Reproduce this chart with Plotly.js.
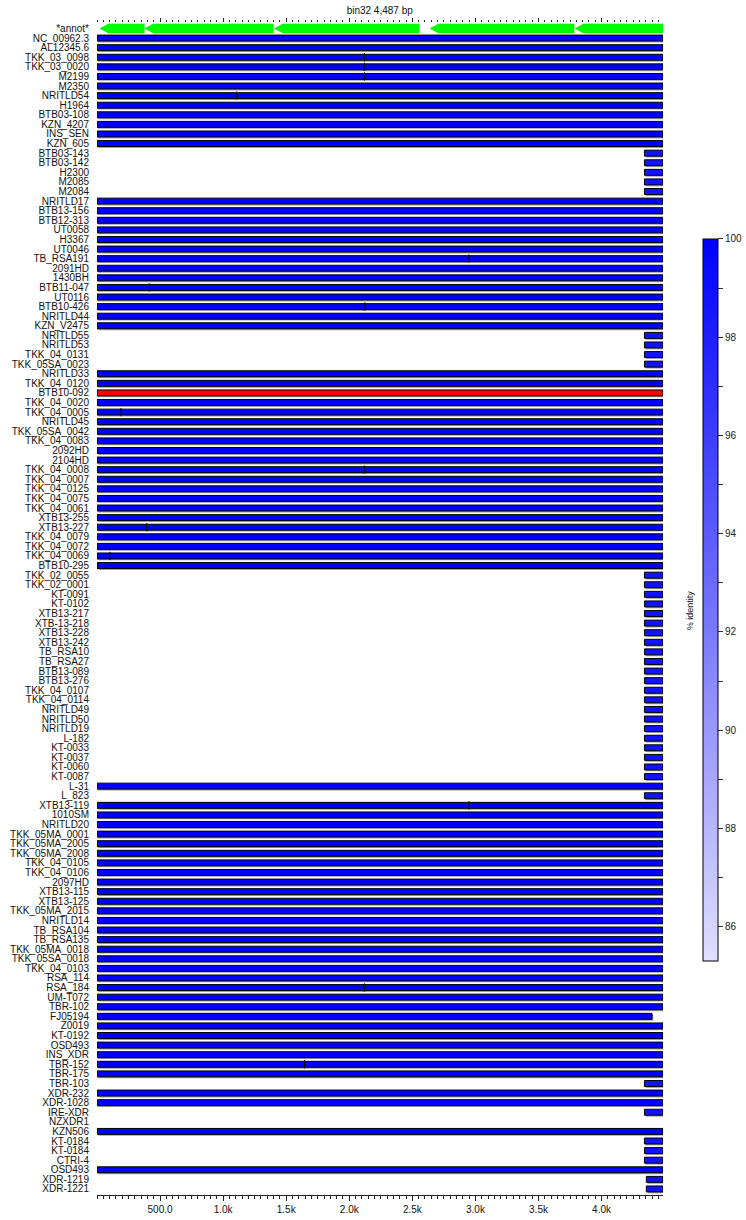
<!DOCTYPE html>
<html><head><meta charset="utf-8">
<script src="https://cdn.plot.ly/plotly-3.0.1.min.js"></script>
<style>html,body{margin:0;padding:0;background:#fff;}</style>
</head><body><div id="chart" style="width:746px;height:1220px;"></div>
<script>
const chartTitle = "bin32 4,487 bp";
const seqLength = 4487;
const annotLabel = "*annot*";
const colorbarTitle = "% identity";

// gene annotation (bp)
const geneStart = [24, 380, 1407, 2641, 3790];
const geneEnd = [375, 1398, 2554, 3782, 4487];
const geneStrand = ["-", "-", "-", "-", "-"];

const samples = [
"NC_00962.3","AL12345.6","TKK_03_0098","TKK_03_0020","M2199","M2350","NRITLD54","H1964","BTB03-108","KZN_4207",
"INS_SEN","KZN_605","BTB03-143","BTB03-142","H2300","M2085","M2084","NRITLD17","BTB13-156","BTB12-313",
"UT0058","H3367","UT0046","TB_RSA191","2091HD","1430BH","BTB11-047","UT0116","BTB10-426","NRITLD44",
"KZN_V2475","NRITLD55","NRITLD53","TKK_04_0131","TKK_05SA_0023","NRITLD33","TKK_04_0120","BTB10-092","TKK_04_0020","TKK_04_0005",
"NRITLD45","TKK_05SA_0042","TKK_04_0083","2092HD","2104HD","TKK_04_0008","TKK_04_0007","TKK_04_0125","TKK_04_0075","TKK_04_0061",
"XTB13-255","XTB13-227","TKK_04_0079","TKK_04_0072","TKK_04_0069","BTB10-295","TKK_02_0055","TKK_02_0001","KT-0091","KT-0102",
"XTB13-217","XTB-13-218","XTB13-228","XTB13-242","TB_RSA10","TB_RSA27","BTB13-089","BTB13-276","TKK_04_0107","TKK_04_0114",
"NRITLD49","NRITLD50","NRITLD19","L-182","KT-0033","KT-0037","KT-0060","KT-0087","L-31","L_823",
"XTB13-119","1010SM","NRITLD20","TKK_05MA_0001","TKK_05MA_2005","TKK_05MA_2008","TKK_04_0105","TKK_04_0106","2097HD","XTB13-115",
"XTB13-125","TKK_05MA_2015","NRITLD14","TB_RSA104","TB_RSA135","TKK_05MA_0018","TKK_05SA_0018","TKK_04_0103","RSA_114","RSA_184",
"UM-T072","TBR-102","FJ05194","Z0019","KT-0192","OSD493","INS_XDR","TBR-152","TBR-175","TBR-103",
"XDR-232","XDR-1028","IRE-XDR","NZXDR1","KZN506","KT-0184","KT-0184","CTRI-4","OSD493","XDR-1219",
"XDR-1221"
];

const alnStart = [
0,0,0,0,0,0,0,0,0,0,
0,0,4340,4340,4340,4340,4340,0,0,0,
0,0,0,0,0,0,0,0,0,0,
0,4340,4340,4340,4340,0,0,0,0,0,
0,0,0,0,0,0,0,0,0,0,
0,0,0,0,0,0,4340,4340,4340,4340,
4340,4340,4340,4340,4340,4340,4340,4340,4340,4340,
4340,4340,4340,4340,4340,4340,4340,4340,0,4340,
0,0,0,0,0,0,0,0,0,0,
0,0,0,0,0,0,0,0,0,0,
0,0,0,0,0,0,0,0,0,4340,
0,0,4340,null,0,4340,4340,4340,0,4355,
4355
];

const alnEnd = [
4487,4487,4487,4487,4487,4487,4487,4487,4487,4487,
4487,4487,4487,4487,4487,4487,4487,4487,4487,4487,
4487,4487,4487,4487,4487,4487,4487,4487,4487,4487,
4487,4487,4487,4487,4487,4487,4487,4487,4487,4487,
4487,4487,4487,4487,4487,4487,4487,4487,4487,4487,
4487,4487,4487,4487,4487,4487,4487,4487,4487,4487,
4487,4487,4487,4487,4487,4487,4487,4487,4487,4487,
4487,4487,4487,4487,4487,4487,4487,4487,4487,4487,
4487,4487,4487,4487,4487,4487,4487,4487,4487,4487,
4487,4487,4487,4487,4487,4487,4487,4487,4487,4487,
4487,4487,4400,4487,4487,4487,4487,4487,4487,4487,
4487,4487,4487,null,4487,4487,4487,4487,4487,4487,
4487
];

const identity = [
100,100,100,100,100,100,100,100,100,100,
100,100,98.8,98.8,98.8,98.8,98.8,100,100,100,
100,100,100,100,100,100,100,100,100,100,
100,98.8,98.8,98.8,98.8,100,100,100,100,100,
100,100,100,100,100,100,100,100,100,100,
100,100,100,100,100,100,98.8,98.8,98.8,98.8,
98.8,98.8,98.8,98.8,98.8,98.8,98.8,98.8,98.8,98.8,
98.8,98.8,98.8,98.8,98.8,98.8,98.8,98.8,100,98.8,
100,100,100,100,100,100,100,100,100,100,
100,100,100,100,100,100,100,100,100,100,
100,100,100,100,100,100,100,100,100,98.8,
100,100,98.8,null,100,98.8,98.8,98.8,100,98.8,
98.8
];

const flaggedSamples = ["BTB10-092"];

// variant marks: row number (1-based sample index) and position (bp)
const markRow = [3, 4, 5, 7, 24, 27, 29, 40, 46, 52, 55, 81, 100, 108];
const markPos = [2120, 2120, 2120, 1107, 2948, 415, 2123, 190, 2120, 394, 103, 2948, 2120, 1645];

const xTickVals = [500, 1000, 1500, 2000, 2500, 3000, 3500, 4000];
const xTickText = ["500.0", "1.0k", "1.5k", "2.0k", "2.5k", "3.0k", "3.5k", "4.0k"];

const cbTickVals = [86,87,88,89,90,91,92,93,94,95,96,97,98,99,100];
const cbTickText = ["86","","88","","90","","92","","94","","96","","98","","100"];
const idMin = 85.3, idMax = 100;

// ---- build traces ----
const barW = 0.62;
const normal = {y: [], base: [], x: [], c: []};
const flagged = {y: [], base: [], x: [], c: []};
const shadow = {y: [], base: [], x: []};
samples.forEach((s, i) => {
  if (alnStart[i] == null) return;
  const row = i + 1;
  const tgt = flaggedSamples.includes(s) ? flagged : normal;
  tgt.y.push(row); tgt.base.push(alnStart[i]); tgt.x.push(alnEnd[i] - alnStart[i]); tgt.c.push(identity[i]);
  shadow.y.push(row); shadow.base.push(alnStart[i] + 10); shadow.x.push(alnEnd[i] - alnStart[i]);
});

const headLen = 65, halfH = 0.47;
const ax = [], ay = [];
geneStart.forEach((s, k) => {
  const e = geneEnd[k];
  if (geneStrand[k] === "-") {
    ax.push(s, s + headLen, e, e, s + headLen, s, null);
    ay.push(0, -halfH, -halfH, halfH, halfH, 0, null);
  } else {
    ax.push(e, e - headLen, s, s, e - headLen, e, null);
    ay.push(0, -halfH, -halfH, halfH, halfH, 0, null);
  }
});

const traces = [
  {type: "bar", orientation: "h", y: shadow.y, base: shadow.base, x: shadow.x,
   width: barW, offset: -barW / 2 + 0.15, marker: {color: "#a0a0a0", line: {width: 0}},
   hoverinfo: "skip"},
  {type: "bar", orientation: "h", y: normal.y, base: normal.base, x: normal.x,
   width: barW, offset: -barW / 2,
   marker: {color: normal.c, colorscale: [[0, "#e0e0ff"], [1, "#0000ff"]], cmin: idMin, cmax: idMax,
     line: {color: "#000", width: 1}, showscale: true,
     colorbar: {x: 1.0707, xanchor: "left", xpad: 0, y: 0.5077, yanchor: "middle", ypad: 0,
       len: 0.616, lenmode: "fraction", thickness: 15, thicknessmode: "pixels",
       outlinewidth: 1, outlinecolor: "#000", ticks: "outside", ticklen: 5, tickcolor: "#333",
       tickmode: "array", tickvals: cbTickVals, ticktext: cbTickText,
       tickfont: {size: 10, color: "#222"}}}},
  {type: "bar", orientation: "h", y: flagged.y, base: flagged.base, x: flagged.x,
   width: barW, offset: -barW / 2, marker: {color: "#ff0000", line: {color: "#000", width: 1}}},
  {type: "scatter", mode: "markers", x: markPos, y: markRow,
   marker: {symbol: "line-ns", size: 6, color: "#000", line: {color: "#000", width: 1}}, hoverinfo: "skip"},
  {type: "scatter", mode: "lines", x: ax, y: ay, xaxis: "x2", yaxis: "y",
   fill: "toself", fillcolor: "#00ff00", line: {color: "#00e000", width: 0.5}, hoverinfo: "skip"}
];

const yVals = [0], yText = [annotLabel];
samples.forEach((s, i) => { yVals.push(i + 1); yText.push(s); });

const minorCfg = {tickmode: "linear", tick0: 0, dtick: 50, ticks: "outside", ticklen: 2, tickcolor: "#222", showgrid: false};

const layout = {
  width: 746, height: 1220,
  margin: {l: 97, r: 83, t: 23, b: 25, pad: 0, autoexpand: false},
  paper_bgcolor: "#fff", plot_bgcolor: "#fff",
  font: {family: "Liberation Sans, Arial, sans-serif", size: 10, color: "#111"},
  barmode: "overlay", showlegend: false,
  title: {text: chartTitle, x: 0.509, xanchor: "center", y: 1 - 10 / 1220, yref: "container", yanchor: "middle",
    font: {size: 10, color: "#111"}, automargin: false},
  xaxis: {range: [0, seqLength], showgrid: false, zeroline: false, showline: true, linecolor: "#222", linewidth: 1,
    ticks: "outside", ticklen: 5, tickcolor: "#222", tickmode: "array", tickvals: xTickVals, ticktext: xTickText,
    minor: Object.assign({}, minorCfg, {ticklen: 2.5}), fixedrange: true, automargin: false},
  xaxis2: {overlaying: "x", side: "top", matches: "x", range: [0, seqLength], showgrid: false, zeroline: false,
    showline: false, ticks: "outside", ticklen: 4, tickcolor: "#222", tickmode: "array", tickvals: xTickVals,
    showticklabels: false, minor: minorCfg, automargin: false},
  yaxis: {range: [121.63, -0.57], tickmode: "array", tickvals: yVals, ticktext: yText, showgrid: false,
    zeroline: false, showline: false, ticks: "", ticklabelstandoff: 7, tickfont: {size: 10, color: "#111"},
    automargin: false, fixedrange: true},
  annotations: [{text: colorbarTitle, xref: "paper", yref: "paper", x: 1.0477, y: 0.499, textangle: -90,
    showarrow: false, font: {size: 9, color: "#111"}, xanchor: "center", yanchor: "middle"}]
};

Plotly.newPlot("chart", traces, layout, {displayModeBar: false, staticPlot: true});
</script></body></html>
